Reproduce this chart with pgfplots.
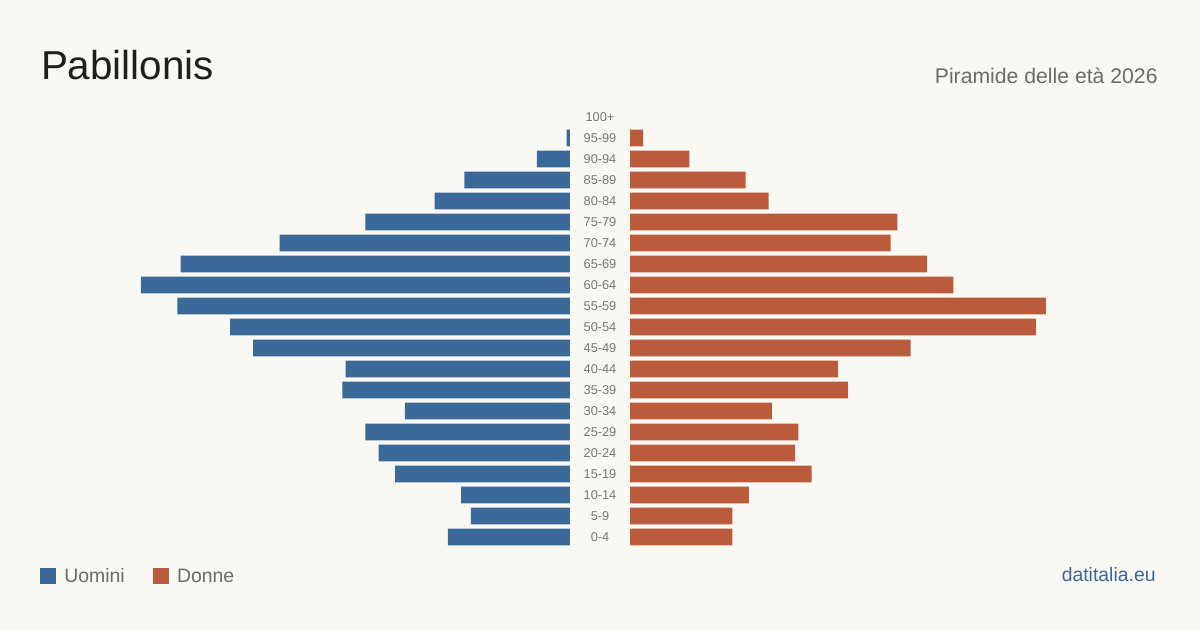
\documentclass[border=0pt]{standalone}
\usepackage{fontspec}
\setmainfont{Liberation Sans}
\usepackage{pgfplots}
\usepackage{pgfplotstable}
\pgfplotsset{compat=1.18}

\definecolor{bg}{HTML}{F9F8F3}
\definecolor{uomini}{HTML}{3B6A9A}
\definecolor{donne}{HTML}{BA5C3C}
\definecolor{ink}{HTML}{1E1E1E}
\definecolor{subgray}{HTML}{6B6B6B}
\definecolor{tickgray}{HTML}{777777}
\definecolor{brand}{HTML}{3A689C}

% Residents by five-year age class: m = men, f = women
\pgfplotstableread{
idx age   m   f
0   0-4   37  31
1   5-9   30  31
2   10-14 33  36
3   15-19 53  55
4   20-24 58  50
5   25-29 62  51
6   30-34 50  43
7   35-39 69  66
8   40-44 68  63
9   45-49 96  85
10  50-54 103 123
11  55-59 119 126
12  60-64 130 98
13  65-69 118 90
14  70-74 88  79
15  75-79 62  81
16  80-84 41  42
17  85-89 32  35
18  90-94 10  18
19  95-99 1   4
20  100+  0   0
}\pyramid

\pgfplotsset{
  half/.style={
    scale only axis,
    width=264pt, height=220.5pt,
    xmin=0, xmax=160,
    ymin=-0.5, ymax=20.5,
    xbar, bar width=8.35pt,
    axis line style={draw=none},
    tick style={draw=none},
    xtick=\empty,
    ytick=\empty,
  },
  % empty classes draw no bar at all
  nozero/.style={x filter/.expression={x==0 ? nan : x}},
}

\begin{document}
\begin{tikzpicture}
\useasboundingbox (0,0) rectangle (600pt,315pt);
\fill[bg] (0,0) rectangle (600pt,315pt);

% Men, growing to the left
\begin{axis}[half, at={(285pt,41.25pt)}, anchor=south east, x dir=reverse]
  \addplot[fill=uomini, draw=none, nozero] table[x=m, y=idx] {\pyramid};
\end{axis}

% Women, growing to the right; age classes in the gap between
\begin{axis}[half, at={(315pt,41.25pt)}, anchor=south west,
  ytick={0,...,20},
  yticklabels from table={\pyramid}{age},
  major tick length=0pt,
  yticklabel style={anchor=center, xshift=-15pt, inner sep=0pt,
    font=\fontsize{6.4}{7}\selectfont, text=tickgray}]
  \addplot[fill=donne, draw=none, nozero] table[x=f, y=idx] {\pyramid};
\end{axis}

% Title and subtitle
\node[anchor=base west, inner sep=0pt, text=ink,
  font=\fontsize{20.2}{22}\selectfont] at (20.3pt,275pt) {Pabillonis};
\node[anchor=base east, inner sep=0pt, text=subgray,
  font=\fontsize{10.6}{12}\selectfont] at (579pt,273.3pt) {Piramide delle età 2026};

% Legend
\fill[uomini] (20pt,23pt) rectangle (28pt,31pt);
\node[anchor=base west, inner sep=0pt, text=subgray,
  font=\fontsize{9.7}{11}\selectfont] at (32pt,23.5pt) {Uomini};
\fill[donne] (76.5pt,23pt) rectangle (84.5pt,31pt);
\node[anchor=base west, inner sep=0pt, text=subgray,
  font=\fontsize{9.7}{11}\selectfont] at (88.3pt,23.5pt) {Donne};

% Source
\node[anchor=base east, inner sep=0pt, text=brand,
  font=\fontsize{9.7}{11}\selectfont] at (578pt,24pt) {datitalia.eu};
\end{tikzpicture}
\end{document}
